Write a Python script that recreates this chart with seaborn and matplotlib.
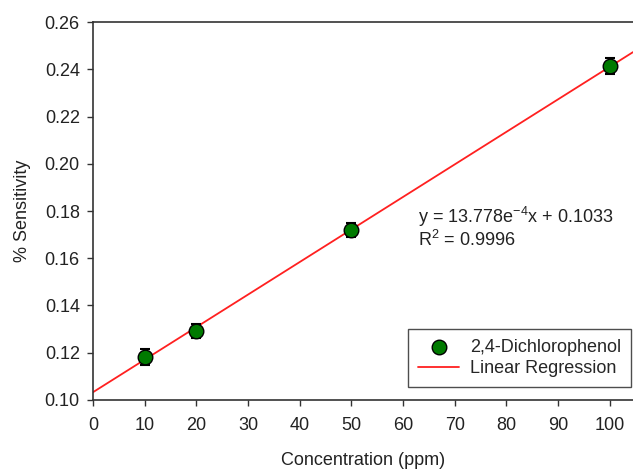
import numpy as np
import pandas as pd
import matplotlib
matplotlib.use("Agg")
import matplotlib.pyplot as plt
import seaborn as sns

# Measured sensitivity for 2,4-Dichlorophenol
concentration = [10, 20, 50, 100]
sensitivity = [0.1183, 0.1293, 0.1718, 0.2413]
sensitivity_err = [0.0034, 0.0030, 0.0030, 0.0034]

# Linear regression parameters
slope = 13.778e-4
intercept = 0.1033
r_squared = 0.9996

x_ticks = [0, 10, 20, 30, 40, 50, 60, 70, 80, 90, 100]
y_ticks = [0.10, 0.12, 0.14, 0.16, 0.18, 0.20, 0.22, 0.24, 0.26]

sns.set_theme(style="white")
plt.rcParams["font.family"] = ["Liberation Sans", "DejaVu Sans"]
plt.rcParams["mathtext.default"] = "regular"

FS = 13
TXT = "#222222"

fig = plt.figure(figsize=(6.33, 4.70), dpi=100)
ax = fig.add_axes([0.147, 0.149, 0.853, 0.804])

x_max = 104.5
fit_df = pd.DataFrame({"x": [0, x_max]})
fit_df["y"] = slope * fit_df["x"] + intercept
sns.lineplot(data=fit_df, x="x", y="y", ax=ax, color="#ff2020", lw=1.3,
             label="Linear Regression", zorder=2)

ax.errorbar(concentration, sensitivity, yerr=sensitivity_err, fmt="none",
            ecolor="black", elinewidth=1.2, capsize=3.5, capthick=1.5, zorder=3)
pts = pd.DataFrame({"x": concentration, "y": sensitivity})
sns.scatterplot(data=pts, x="x", y="y", ax=ax, s=110, color="#007a00",
                edgecolor="black", linewidth=1.0, zorder=4,
                label="2,4-Dichlorophenol")

ax.set_xlim(0, x_max)
ax.set_ylim(0.10, 0.26)
ax.set_xticks(x_ticks)
ax.set_yticks(y_ticks)
ax.set_yticklabels([f"{v:.2f}" for v in y_ticks])
ax.tick_params(axis="both", direction="out", length=4.5, width=1, color="#333333",
               labelsize=FS, labelcolor=TXT, bottom=True, left=True)
ax.tick_params(axis="x", pad=7.5)
ax.tick_params(axis="y", pad=5)
ax.set_xlabel("Concentration (ppm)", fontsize=FS, color=TXT, labelpad=13)
ax.set_ylabel("% Sensitivity", fontsize=FS, color=TXT, labelpad=10)

for side in ["left", "bottom", "top"]:
    ax.spines[side].set_color("#333333")
    ax.spines[side].set_linewidth(1.2)
ax.spines["right"].set_visible(False)

ax.text(0.602, 0.484, "y = 13.778e$^{-4}$x + 0.1033", transform=ax.transAxes,
        fontsize=FS, color=TXT, va="center")
ax.text(0.602, 0.423, f"R$^{{2}}$ = {r_squared}", transform=ax.transAxes,
        fontsize=FS, color=TXT, va="center")

handles, labels = ax.get_legend_handles_labels()
order = [labels.index("2,4-Dichlorophenol"), labels.index("Linear Regression")]
leg = ax.legend([handles[i] for i in order], [labels[i] for i in order],
                loc="upper left", bbox_to_anchor=(408 / 633, 1 - 329 / 470),
                bbox_transform=fig.transFigure, fontsize=FS,
                frameon=True, fancybox=False, edgecolor=TXT,
                borderpad=0.55, handlelength=2.3, handletextpad=0.6,
                labelspacing=0.25, borderaxespad=0)
leg.get_frame().set_linewidth(1.0)

fig.savefig("out.png", dpi=100)
